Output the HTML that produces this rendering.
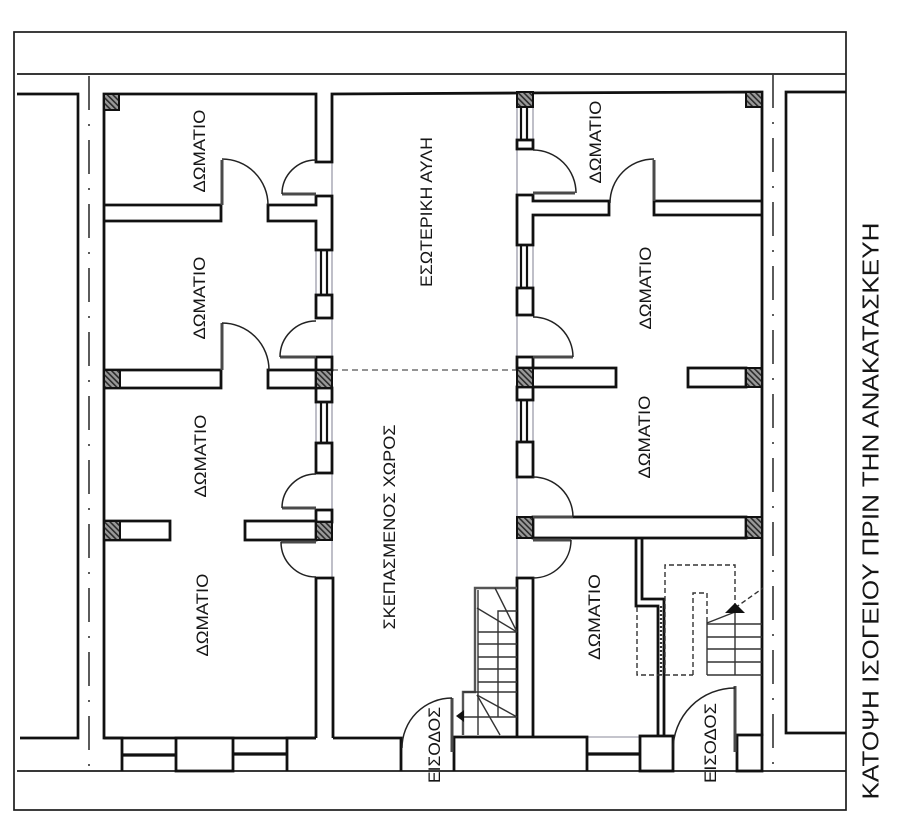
<!DOCTYPE html>
<html><head><meta charset="utf-8"><style>
html,body{margin:0;padding:0;background:#fff;}
svg{display:block;}
text{font-family:"Liberation Sans","DejaVu Sans",sans-serif;fill:#161616;}
</style></head><body>
<svg width="900" height="827" viewBox="0 0 900 827" xmlns="http://www.w3.org/2000/svg">
<defs>
<pattern id="h" width="4" height="4" patternUnits="userSpaceOnUse" patternTransform="rotate(-45)">
<rect width="4" height="4" fill="#9a9a9a"/><rect width="1.6" height="4" fill="#2a2a2a"/>
</pattern>
</defs>
<rect width="900" height="827" fill="#fff"/>

<!-- frame -->
<g fill="none" stroke="#1c1c1c" stroke-width="1.7">
<rect x="14" y="32" width="832" height="778"/>
<line x1="17" y1="74" x2="846" y2="74"/>
<line x1="17" y1="771" x2="846" y2="771"/>
</g>

<!-- neighbours -->
<g fill="none" stroke="#111" stroke-width="2.7">
<polyline points="17,94 78,94 78,738 20,738"/>
<polyline points="846,92 786,92 786,733 846,733"/>
</g>
<g fill="none" stroke="#333" stroke-width="1.6" stroke-dasharray="34 14 2 14">
<line x1="89" y1="76" x2="89" y2="771"/>
<line x1="773" y1="74" x2="773" y2="771"/>
</g>

<!-- thin grey lines along corridor walls -->
<g stroke="#8a8a9a" stroke-width="1.1" fill="none">
<line x1="332" y1="162" x2="332" y2="578"/>
<line x1="316" y1="250" x2="316" y2="295"/>
<line x1="316" y1="402" x2="316" y2="443"/>
<line x1="517" y1="107" x2="517" y2="578"/>
<line x1="533" y1="107" x2="533" y2="140"/>
<line x1="533" y1="245" x2="533" y2="288"/>
<line x1="533" y1="400" x2="533" y2="442"/>
<line x1="122" y1="738" x2="176" y2="738"/>
<line x1="233" y1="738" x2="287" y2="738"/>
<line x1="587" y1="737" x2="640" y2="737"/>
</g>

<!-- dashed line -->
<line x1="332" y1="370" x2="517" y2="370" stroke="#555" stroke-width="1.3" stroke-dasharray="6 4"/>

<!-- main walls -->
<g fill="#fff" stroke="#111" stroke-width="2.8" stroke-linejoin="miter">
<polyline fill="none" points="122,771 122,738 104,738 104,94 316,94 316,162 332,162 332,94 517,93 762,92 762,736"/>
<line x1="104" y1="738" x2="316" y2="738"/>

<polyline fill="none" points="104,205 221,205 221,221 104,221"/>
<path d="M268,205 H316 V196 H332 V250 H316 V221 H268 Z"/>
<rect x="316" y="295" width="16" height="23"/>
<rect x="316" y="357" width="16" height="13"/>
<rect x="316" y="388" width="16" height="14"/>
<polyline fill="none" points="104,370 221,370 221,388 104,388"/>
<rect x="268" y="370" width="48" height="18"/>
<rect x="316" y="443" width="16" height="30"/>
<rect x="316" y="510" width="16" height="12"/>
<polyline fill="none" points="104,521 170,521 170,540 104,540"/>
<rect x="245" y="521" width="71" height="19"/>
<polyline fill="none" points="316,738 316,578 333,578 333,738"/>

<rect x="176" y="738" width="57" height="33"/>
<polyline fill="none" points="287,771 287,738 316,738"/>
<polyline fill="none" points="333,738 401,738 401,771"/>

<rect x="517" y="140" width="16" height="9"/>
<path d="M517,195 H533 V201 H609 V215 H533 V245 H517 Z"/>
<polyline fill="none" points="762,201 654,201 654,215 762,215"/>
<rect x="517" y="288" width="16" height="27"/>
<rect x="517" y="357" width="16" height="11"/>
<rect x="517" y="387" width="16" height="13"/>
<polyline fill="none" points="533,368 616,368 616,387 533,387"/>
<rect x="688" y="368" width="58" height="19"/>
<rect x="517" y="442" width="16" height="35"/>
<rect x="533" y="517" width="213" height="21"/>
<polyline fill="none" points="517,736 517,578 533,578 533,736"/>
<polyline fill="none" points="636,538 636,606 658,606 658,736"/>
<polyline fill="none" points="642,538 642,599 664,599 664,736"/>

<polyline fill="none" points="454,771 454,737 587,737 587,771"/>
<rect x="640" y="736" width="33" height="35"/>
<rect x="737" y="735" width="25" height="36"/>
</g>

<!-- windows -->
<g stroke="#111" stroke-width="2.2" fill="none">
<line x1="321" y1="250" x2="321" y2="295"/><line x1="327" y1="250" x2="327" y2="295"/>
<line x1="321" y1="402" x2="321" y2="443"/><line x1="327" y1="402" x2="327" y2="443"/>
<line x1="521" y1="107" x2="521" y2="140"/><line x1="527" y1="107" x2="527" y2="140"/>
<line x1="521" y1="245" x2="521" y2="288"/><line x1="527" y1="245" x2="527" y2="288"/>
<line x1="521" y1="400" x2="521" y2="442"/><line x1="527" y1="400" x2="527" y2="442"/>
</g>
<g stroke="#111" stroke-width="3.2" fill="none">
<line x1="122" y1="755" x2="176" y2="755"/>
<line x1="233" y1="754" x2="287" y2="754"/>
<line x1="587" y1="754" x2="640" y2="754"/>
</g>

<!-- hatched pillars -->
<g fill="url(#h)" stroke="#111" stroke-width="2">
<rect x="104" y="94" width="15" height="16"/>
<rect x="316" y="370" width="16" height="18"/>
<rect x="104" y="370" width="16" height="18"/>
<rect x="316" y="522" width="16" height="18"/>
<rect x="104" y="521" width="16" height="19"/>
<rect x="517" y="92" width="16" height="15"/>
<rect x="746" y="92" width="16" height="15"/>
<rect x="517" y="368" width="16" height="19"/>
<rect x="746" y="368" width="16" height="19"/>
<rect x="517" y="517" width="16" height="21"/>
<rect x="746" y="517" width="16" height="21"/>
</g>

<!-- door leaves -->
<g stroke="#4a4a4a" stroke-width="3" fill="none">
<line x1="222" y1="160" x2="222" y2="205"/>
<line x1="222" y1="323" x2="222" y2="370"/>
<line x1="282" y1="194" x2="316" y2="194"/>
<line x1="280" y1="357" x2="316" y2="357"/>
<line x1="282" y1="508" x2="316" y2="508"/>
<line x1="281" y1="542" x2="316" y2="542"/>
<line x1="533" y1="193" x2="575" y2="193"/>
<line x1="654" y1="160" x2="654" y2="201"/>
<line x1="533" y1="357" x2="573" y2="357"/>
<line x1="533" y1="517" x2="573" y2="517"/>
<line x1="533" y1="540" x2="571" y2="540"/>
<line x1="452" y1="698" x2="452" y2="752"/>
<line x1="735" y1="686" x2="735" y2="752"/>
</g>
<!-- door arcs -->
<g stroke="#222" stroke-width="1.5" fill="none">
<path d="M222,159 A46,46 0 0 1 268,205"/>
<path d="M222,323 A47,47 0 0 1 269,370"/>
<path d="M282,194 A34,34 0 0 1 316,160"/>
<path d="M280,357 A36,36 0 0 1 316,321"/>
<path d="M282,508 A34,34 0 0 1 316,474"/>
<path d="M281,542 A35,35 0 0 0 316,577"/>
<path d="M533,150 A43,43 0 0 1 576,193"/>
<path d="M654,159 A44,44 0 0 0 610,203"/>
<path d="M533,317 A40,40 0 0 1 573,357"/>
<path d="M533,477 A40,40 0 0 1 573,517"/>
<path d="M571,540 A38,38 0 0 1 533,578"/>
<path d="M452,698 A50,50 0 0 0 402,748"/>
<path d="M735,688 A62,62 0 0 0 673,750"/>
</g>

<!-- left stair -->
<g fill="none" stroke="#333" stroke-width="1.4">
<polyline points="517,588 475,588 475,692 463,692 463,735" stroke="#555" stroke-width="2.4"/>
<line x1="478" y1="590" x2="478" y2="735"/>
<polyline points="517,611 498,611 498,717"/>
<line x1="463" y1="717" x2="517" y2="717"/>
<line x1="478" y1="632" x2="517" y2="632"/>
<line x1="478" y1="644" x2="517" y2="644"/>
<line x1="478" y1="657" x2="517" y2="657"/>
<line x1="478" y1="669" x2="517" y2="669"/>
<line x1="478" y1="682" x2="517" y2="682"/>
<line x1="463" y1="692" x2="517" y2="692"/>
<line x1="517" y1="632" x2="495" y2="588"/>
<line x1="517" y1="632" x2="477" y2="608"/>
<line x1="477" y1="695" x2="517" y2="717"/>
<line x1="477" y1="695" x2="500" y2="735"/>
</g>
<polygon points="456,716 464,710 464,722" fill="#111"/>

<!-- right stair -->
<g fill="none" stroke="#333" stroke-width="1.4" stroke-dasharray="5 3">
<polyline points="735,608 735,565 665,565 665,675"/>
<polyline points="637,607 637,675 693,675"/>
<polyline points="693,675 693,593 707,593 707,622"/>
<line x1="735" y1="608" x2="763" y2="588"/>
</g>
<g fill="none" stroke="#333" stroke-width="1.4">
<line x1="707" y1="623" x2="735" y2="612"/>
<line x1="707" y1="624" x2="762" y2="624"/>
<line x1="707" y1="637" x2="762" y2="637"/>
<line x1="707" y1="649" x2="762" y2="649"/>
<line x1="707" y1="662" x2="762" y2="662"/>
<line x1="707" y1="675" x2="762" y2="675"/>
<line x1="707" y1="622" x2="707" y2="675"/>
<line x1="735" y1="608" x2="735" y2="675"/>
</g>
<line x1="661" y1="606" x2="661" y2="675" stroke="#333" stroke-width="2.2" stroke-dasharray="2 2"/>
<polygon points="735,603 745,613 725,613" fill="#111"/>

<!-- labels -->
<g font-size="17">
<text transform="translate(199,151) rotate(-90)" text-anchor="middle" dy="0.36em" textLength="83" lengthAdjust="spacingAndGlyphs">ΔΩΜΑΤΙΟ</text>
<text transform="translate(199,298) rotate(-90)" text-anchor="middle" dy="0.36em" textLength="83" lengthAdjust="spacingAndGlyphs">ΔΩΜΑΤΙΟ</text>
<text transform="translate(200,456) rotate(-90)" text-anchor="middle" dy="0.36em" textLength="83" lengthAdjust="spacingAndGlyphs">ΔΩΜΑΤΙΟ</text>
<text transform="translate(202,615) rotate(-90)" text-anchor="middle" dy="0.36em" textLength="83" lengthAdjust="spacingAndGlyphs">ΔΩΜΑΤΙΟ</text>
<text transform="translate(595,142) rotate(-90)" text-anchor="middle" dy="0.36em" textLength="83" lengthAdjust="spacingAndGlyphs">ΔΩΜΑΤΙΟ</text>
<text transform="translate(645,288) rotate(-90)" text-anchor="middle" dy="0.36em" textLength="83" lengthAdjust="spacingAndGlyphs">ΔΩΜΑΤΙΟ</text>
<text transform="translate(644,437) rotate(-90)" text-anchor="middle" dy="0.36em" textLength="83" lengthAdjust="spacingAndGlyphs">ΔΩΜΑΤΙΟ</text>
<text transform="translate(594,617) rotate(-90)" text-anchor="middle" dy="0.36em" textLength="86" lengthAdjust="spacingAndGlyphs">ΔΩΜΑΤΙΟ</text>
<text transform="translate(426,212) rotate(-90)" text-anchor="middle" dy="0.36em" textLength="150" lengthAdjust="spacingAndGlyphs">ΕΣΩΤΕΡΙΚΗ ΑΥΛΗ</text>
<text transform="translate(389,527) rotate(-90)" text-anchor="middle" dy="0.36em" textLength="205" lengthAdjust="spacingAndGlyphs">ΣΚΕΠΑΣΜΕΝΟΣ ΧΩΡΟΣ</text>
<text transform="translate(434,745) rotate(-90)" text-anchor="middle" dy="0.36em" textLength="76" lengthAdjust="spacingAndGlyphs">ΕΙΣΟΔΟΣ</text>
<text transform="translate(710,743) rotate(-90)" text-anchor="middle" dy="0.36em" textLength="80" lengthAdjust="spacingAndGlyphs">ΕΙΣΟΔΟΣ</text>
</g>
<text transform="translate(870,511) rotate(-90)" text-anchor="middle" dy="0.36em" font-size="23" textLength="577" lengthAdjust="spacingAndGlyphs">ΚΑΤΟΨΗ ΙΣΟΓΕΙΟΥ ΠΡΙΝ ΤΗΝ ΑΝΑΚΑΤΑΣΚΕΥΗ</text>
</svg>
</body></html>
